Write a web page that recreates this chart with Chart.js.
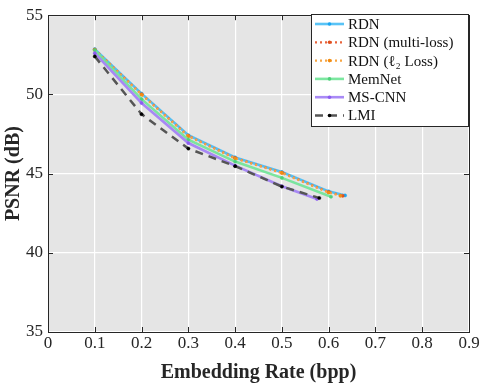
<!DOCTYPE html>
<html>
<head>
<meta charset="utf-8">
<script src="https://cdn.jsdelivr.net/npm/chart.js@4.4.0/dist/chart.umd.min.js"></script>
<style>
  html, body { margin: 0; padding: 0; background: #fff; }
  #wrap { width: 482px; height: 385px; }
</style>
</head>
<body>
<div id="wrap"><canvas id="psnrChart" width="482" height="385"></canvas></div>
<script>
// series names
const seriesNames = ['RDN', 'RDN (multi-loss)', 'RDN (\u2113\u2082 Loss)', 'MemNet', 'MS-CNN', 'LMI'];

// embedding rate (bpp) per series
const rdnRate = [0.1, 0.2, 0.3, 0.4, 0.5, 0.6, 0.635];
const rdnMultiRate = [0.1, 0.2, 0.3, 0.4, 0.5, 0.6, 0.63];
const rdnL2Rate = [0.1, 0.2, 0.3, 0.4, 0.5, 0.6, 0.625];
const memnetRate = [0.1, 0.2, 0.3, 0.4, 0.5, 0.605];
const mscnnRate = [0.1, 0.2, 0.3, 0.4, 0.5, 0.575];
const lmiRate = [0.1, 0.2, 0.3, 0.4, 0.5, 0.58];

// PSNR (dB) per series
const rdnPsnr = [52.86, 50.05, 47.42, 46.02, 45.1, 43.88, 43.62];
const rdnMultiPsnr = [52.83, 50.01, 47.38, 45.98, 45.06, 43.83, 43.6];
const rdnL2Psnr = [52.81, 49.99, 47.36, 45.96, 45.04, 43.8, 43.6];
const memnetPsnr = [52.8, 49.7, 47.14, 45.76, 44.73, 43.54];
const mscnnPsnr = [52.6, 49.46, 46.93, 45.5, 44.2, 43.4];
const lmiPsnr = [52.4, 48.75, 46.58, 45.47, 44.18, 43.46];

// axis ticks
const xTicks = [0, 0.1, 0.2, 0.3, 0.4, 0.5, 0.6, 0.7, 0.8, 0.9];
const yTicks = [35, 40, 45, 50, 55];

const styles = [
    { line: 'rgba(60,185,245,0.85)', point: '#1aa6f2', dash: [], width: 2.6 },
    { line: '#e8643c', point: '#e0501e', dash: [2, 3], width: 2.3 },
    { line: '#f7a542', point: '#f28c12', dash: [2, 3], width: 2.3 },
    { line: 'rgba(110,228,150,0.9)', point: '#4fd07a', dash: [], width: 2.6 },
    { line: 'rgba(160,125,245,0.9)', point: '#8c5cf0', dash: [], width: 2.6 },
    { line: '#555555', point: '#000000', dash: [8, 6], width: 2.5 }
];

const rates = [rdnRate, rdnMultiRate, rdnL2Rate, memnetRate, mscnnRate, lmiRate];
const psnrs = [rdnPsnr, rdnMultiPsnr, rdnL2Psnr, memnetPsnr, mscnnPsnr, lmiPsnr];

const datasets = seriesNames.map((name, i) => ({
    label: name,
    data: rates[i].map((x, j) => ({ x: x, y: psnrs[i][j] })),
    borderColor: styles[i].line,
    backgroundColor: styles[i].point,
    pointBackgroundColor: styles[i].point,
    pointBorderColor: styles[i].point,
    pointRadius: 1.6,
    pointBorderWidth: 0.5,
    borderWidth: styles[i].width,
    borderDash: styles[i].dash,
    tension: 0,
    fill: false,
    order: seriesNames.length - i
}));

const serif = "'Liberation Serif', 'DejaVu Serif', serif";

// grey plot area, box, inward ticks and an in-plot legend
const matlabLook = {
    id: 'matlabLook',
    beforeDraw(chart) {
        const { ctx, chartArea: a } = chart;
        ctx.save();
        ctx.fillStyle = '#e5e5e5';
        ctx.fillRect(a.left, a.top, a.right - a.left, a.bottom - a.top);
        ctx.restore();
    },
    afterDatasetsDraw(chart) {
        const { ctx, chartArea: a, scales } = chart;
        ctx.save();
        ctx.strokeStyle = '#262626';
        ctx.lineWidth = 1;
        ctx.beginPath();
        xTicks.forEach(v => {
            const px = Math.round(scales.x.getPixelForValue(v)) + 0.5;
            ctx.moveTo(px, a.bottom); ctx.lineTo(px, a.bottom - 5);
            ctx.moveTo(px, a.top); ctx.lineTo(px, a.top + 5);
        });
        yTicks.forEach(v => {
            const py = Math.round(scales.y.getPixelForValue(v)) + 0.5;
            ctx.moveTo(a.left, py); ctx.lineTo(a.left + 5, py);
            ctx.moveTo(a.right, py); ctx.lineTo(a.right - 5, py);
        });
        ctx.stroke();
        ctx.strokeRect(Math.round(a.left) + 0.5, Math.round(a.top) + 0.5,
            Math.round(a.right - a.left), Math.round(a.bottom - a.top));

        // legend box
        const bx = 311, by = 14, bw = 157, bh = 112;
        ctx.fillStyle = '#ffffff';
        ctx.fillRect(bx, by, bw, bh);
        ctx.strokeStyle = '#262626';
        ctx.strokeRect(bx + 0.5, by + 0.5, bw, bh);
        ctx.font = '15px ' + serif;
        ctx.textBaseline = 'middle';
        seriesNames.forEach((name, i) => {
            const y = by + 10 + i * 18.3;
            ctx.strokeStyle = styles[i].line;
            ctx.lineWidth = styles[i].width;
            ctx.setLineDash(styles[i].dash);
            ctx.beginPath();
            ctx.moveTo(bx + 4, y); ctx.lineTo(bx + 33, y);
            ctx.stroke();
            ctx.setLineDash([]);
            ctx.fillStyle = styles[i].point;
            ctx.beginPath();
            ctx.arc(bx + 18.5, y, 1.8, 0, Math.PI * 2);
            ctx.fill();
            ctx.fillStyle = '#111111';
            ctx.fillText(name, bx + 37, y + 1);
        });
        ctx.restore();
    }
};

const ctx = document.getElementById('psnrChart').getContext('2d');
const psnrChart = new Chart(ctx, {
    type: 'line',
    data: { datasets: datasets },
    options: {
        responsive: false,
        animation: false,
        layout: { padding: { top: 7, right: 13, left: 2, bottom: 0 } },
        plugins: {
            legend: { display: false },
            tooltip: { enabled: false }
        },
        scales: {
            x: {
                type: 'linear',
                min: 0,
                max: 0.9,
                afterBuildTicks: axis => { axis.ticks = xTicks.map(v => ({ value: v })); },
                afterFit: axis => { axis.height = 53; },
                grid: { color: '#ffffff', lineWidth: 1.2, drawTicks: false },
                border: { display: false },
                ticks: {
                    color: '#262626',
                    padding: 1,
                    font: { family: serif, size: 17 },
                    callback: v => String(v)
                },
                title: {
                    display: true,
                    text: 'Embedding Rate (bpp)',
                    color: '#262626',
                    padding: { top: 0, bottom: 0 },
                    font: { family: serif, size: 20, weight: 'bold' }
                }
            },
            y: {
                min: 35,
                max: 55,
                afterBuildTicks: axis => { axis.ticks = yTicks.map(v => ({ value: v })); },
                afterFit: axis => { axis.width = 46; },
                grid: { color: '#ffffff', lineWidth: 1.2, drawTicks: false },
                border: { display: false },
                ticks: {
                    color: '#262626',
                    padding: 5,
                    font: { family: serif, size: 17 }
                },
                title: {
                    display: true,
                    text: 'PSNR (dB)',
                    color: '#262626',
                    padding: { top: 0, bottom: 0 },
                    font: { family: serif, size: 20, weight: 'bold' }
                }
            }
        }
    },
    plugins: [matlabLook]
});
</script>
</body>
</html>
